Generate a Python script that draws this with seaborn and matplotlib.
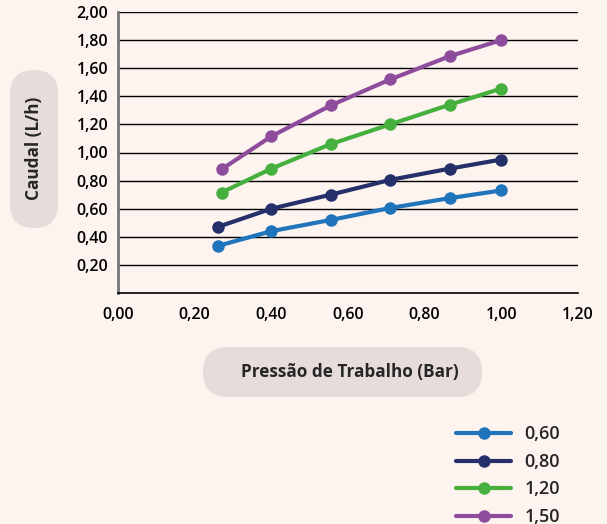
import matplotlib
matplotlib.use("Agg")
import matplotlib.pyplot as plt
import seaborn as sns
import pandas as pd
from matplotlib.patches import FancyBboxPatch
from matplotlib.ticker import FuncFormatter

# ---- data ----
series_names = ["0,60", "0,80", "1,20", "1,50"]
x_060 = [0.26, 0.40, 0.555, 0.71, 0.865, 1.00]
y_060 = [0.335, 0.44, 0.52, 0.605, 0.675, 0.73]
x_080 = [0.26, 0.40, 0.555, 0.71, 0.865, 1.00]
y_080 = [0.47, 0.60, 0.70, 0.805, 0.885, 0.95]
x_120 = [0.27, 0.40, 0.555, 0.71, 0.865, 1.00]
y_120 = [0.715, 0.885, 1.06, 1.20, 1.34, 1.455]
x_150 = [0.27, 0.40, 0.555, 0.71, 0.865, 1.00]
y_150 = [0.88, 1.115, 1.335, 1.52, 1.685, 1.80]
colors = ["#1f74bb", "#25306b", "#46b03f", "#8e4c9d"]
x_ticks = [0.0, 0.2, 0.4, 0.6, 0.8, 1.0, 1.2]
y_ticks = [0.2, 0.4, 0.6, 0.8, 1.0, 1.2, 1.4, 1.6, 1.8, 2.0]
x_label = "Pressão de Trabalho (Bar)"
y_label = "Caudal (L/h)"

xs = [x_060, x_080, x_120, x_150]
ys = [y_060, y_080, y_120, y_150]
rows = []
for name, xv, yv in zip(series_names, xs, ys):
    for a, b in zip(xv, yv):
        rows.append({"x": a, "y": b, "serie": name})
df = pd.DataFrame(rows)

bg = "#fdf3ef"
pill = "#e6dcda"
sns.set_theme(style="white")
plt.rcParams["font.family"] = ["Open Sans", "DejaVu Sans"]

fig = plt.figure(figsize=(6.07, 5.24), dpi=100, facecolor=bg)
ax = fig.add_axes([118 / 607, (524 - 293) / 524, (578 - 118) / 607, (293 - 12) / 524])
ax.set_facecolor(bg)

for yt in y_ticks:
    ax.axhline(yt, color="black", lw=1.0, zorder=1)

sns.lineplot(data=df, x="x", y="y", hue="serie", palette=colors,
             marker="o", markersize=9, markeredgewidth=0, linewidth=3,
             estimator=None, sort=False, ax=ax, zorder=3, legend=False)

ax.set_xlim(0, 1.2)
ax.set_ylim(0, 2.0)
ax.set_xticks(x_ticks)
ax.set_yticks(y_ticks)
fmt = FuncFormatter(lambda v, p: f"{v:.2f}".replace(".", ","))
ax.xaxis.set_major_formatter(fmt)
ax.yaxis.set_major_formatter(fmt)
ax.tick_params(axis="both", length=0, labelsize=11.5, colors="black")
ax.tick_params(axis="y", pad=7)
ax.tick_params(axis="x", pad=10)
for lab in ax.get_xticklabels() + ax.get_yticklabels():
    lab.set_fontweight("semibold")
ax.set_xlabel("")
ax.set_ylabel("")
for s in ["top", "right"]:
    ax.spines[s].set_visible(False)
ax.spines["left"].set_color("#777777")
ax.spines["left"].set_linewidth(2)
ax.spines["bottom"].set_color("black")
ax.spines["bottom"].set_linewidth(1.2)

# pills (inch units)
tr = fig.dpi_scale_trans
fig.patches.append(FancyBboxPatch((0.10, 2.96), 0.48, 1.58,
                                  boxstyle="round,pad=0,rounding_size=0.24",
                                  transform=tr, facecolor=pill, edgecolor="none", zorder=0))
fig.patches.append(FancyBboxPatch((2.03, 1.27), 2.79, 0.50,
                                  boxstyle="round,pad=0,rounding_size=0.25",
                                  transform=tr, facecolor=pill, edgecolor="none", zorder=0))
fig.text(0.34, (524 - 148) / 100, y_label, transform=tr, rotation=90,
         ha="center", va="center", fontsize=12.3, fontweight="bold")
fig.text(3.50, (524 - 372) / 100, x_label, transform=tr,
         ha="center", va="center", fontsize=12.3, fontweight="bold")

# legend
handles = [plt.Line2D([], [], color=c, lw=3, marker="o", markersize=9, markeredgewidth=0)
           for c in colors]
leg = fig.legend(handles, series_names, loc="upper left",
                 bbox_to_anchor=(440 / 607, (524 - 409) / 524),
                 frameon=False, fontsize=13, handlelength=3.05, numpoints=1,
                 labelspacing=0.53, handletextpad=0.72)
for t in leg.get_texts():
    t.set_fontweight("semibold")

fig.savefig("out.png", dpi=100, facecolor=bg)
